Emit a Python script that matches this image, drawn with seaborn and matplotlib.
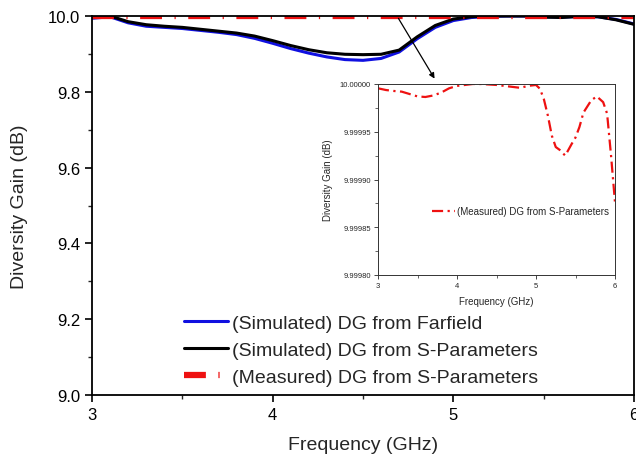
import numpy as np
import pandas as pd
import matplotlib
matplotlib.use("Agg")
import matplotlib.pyplot as plt
from matplotlib.ticker import MultipleLocator, FormatStrFormatter
import seaborn as sns

# ---- data ----
freq_sim = [3.0, 3.1, 3.2, 3.3, 3.4, 3.5, 3.6, 3.7, 3.8, 3.9, 4.0, 4.1, 4.2, 4.3, 4.4,
            4.5, 4.6, 4.7, 4.8, 4.9, 5.0, 5.1, 5.2, 5.3, 5.4, 5.5, 5.6, 5.7, 5.8, 5.9, 6.0]
dg_farfield = [9.994, 9.998, 9.982, 9.973, 9.970, 9.967, 9.962, 9.957, 9.951, 9.941, 9.928,
               9.914, 9.902, 9.892, 9.885, 9.883, 9.888, 9.905, 9.940, 9.970, 9.988, 9.996,
               9.999, 10.0, 10.0, 9.998, 9.997, 9.999, 9.998, 9.991, 9.979]
dg_sparam_sim = [9.997, 10.0, 9.985, 9.977, 9.973, 9.970, 9.965, 9.960, 9.955, 9.947, 9.935,
                 9.922, 9.911, 9.903, 9.899, 9.898, 9.899, 9.910, 9.945, 9.975, 9.992, 9.998,
                 10.0, 10.0, 10.0, 9.997, 9.996, 9.999, 9.998, 9.990, 9.978]
freq_meas = [3.0, 3.1, 3.2, 3.3, 3.4, 3.5, 3.6, 3.7, 3.8, 3.9, 4.0, 4.1, 4.2, 4.3, 4.4, 4.5,
             4.6, 4.7, 4.8, 4.9, 5.0, 5.05, 5.1, 5.15, 5.2, 5.25, 5.3, 5.37, 5.45, 5.5, 5.55,
             5.6, 5.7, 5.77, 5.85, 5.9, 5.95, 6.0]
dg_meas = [9.9999955, 9.9999937, 9.9999927, 9.999992, 9.9999895, 9.999987, 9.9999864,
           9.999988, 9.999991, 9.9999955, 9.999998, 9.999999, 10.0, 10.0, 9.9999995,
           9.999999, 9.999998, 9.999997, 9.999996, 9.999998, 9.999999, 9.999995, 9.999984,
           9.999967, 9.999946, 9.999934, 9.999931, 9.999925, 9.999937, 9.999944, 9.999955,
           9.999970, 9.999983, 9.999987, 9.999981, 9.999969, 9.999925, 9.999876]

lbl_ff = "(Simulated) DG from Farfield"
lbl_ss = "(Simulated) DG from S-Parameters"
lbl_ms = "(Measured) DG from S-Parameters"

sns.set_style("ticks")
plt.rcParams['font.family'] = ['Liberation Sans', 'DejaVu Sans']

fig = plt.figure(figsize=(6.36, 4.56), dpi=100)
ax = fig.add_axes([92/636, 1-396/456, (634-92)/636, (396-17)/456])

df_sim = pd.DataFrame({"f": freq_sim, "ff": dg_farfield, "ss": dg_sparam_sim})
df_meas = pd.DataFrame({"f": freq_meas, "m": dg_meas})

sns.lineplot(data=df_sim, x="f", y="ff", ax=ax, color="#1010e0", lw=2.2, label=lbl_ff)
sns.lineplot(data=df_sim, x="f", y="ss", ax=ax, color="black", lw=2.2, label=lbl_ss)
sns.lineplot(data=df_meas, x="f", y="m", ax=ax, color="#ee1111", lw=4.5,
             linestyle=(0, (3.5, 2.0, 0.2, 2.0)), label=lbl_ms)

ax.set_xlim(3, 6)
ax.set_ylim(9.0, 10.0)
ax.xaxis.set_major_locator(MultipleLocator(1))
ax.xaxis.set_minor_locator(MultipleLocator(0.5))
ax.yaxis.set_major_locator(MultipleLocator(0.2))
ax.yaxis.set_minor_locator(MultipleLocator(0.1))
ax.yaxis.set_major_formatter(FormatStrFormatter('%.1f'))
ax.xaxis.set_major_formatter(FormatStrFormatter('%d'))
ax.tick_params(which='major', direction='out', length=5, width=1.2, labelsize=12, colors='black')
ax.tick_params(which='minor', direction='out', length=3, width=1.0)
for s in ax.spines.values():
    s.set_linewidth(1.3)
    s.set_color('black')
ax.set_xlabel("Frequency (GHz)", fontsize=14, labelpad=10)
ax.set_ylabel("Diversity Gain (dB)", fontsize=14, labelpad=14)

leg = ax.legend(loc='center left', bbox_to_anchor=(174/636, 1-351/456),
                bbox_transform=fig.transFigure, frameon=False, fontsize=14,
                handlelength=2.3, handletextpad=0.2, labelspacing=0.48, borderpad=0)

# ---- inset ----
axi = fig.add_axes([378/636, 1-276/456, (615-378)/636, (276-85)/456])
sns.lineplot(data=df_meas, x="f", y="m", ax=axi, color="#ee1111", lw=1.6,
             linestyle=(0, (5, 2, 1, 2)), label=lbl_ms)
axi.set_xlim(3, 6)
axi.set_ylim(9.99980, 10.0)
axi.xaxis.set_major_locator(MultipleLocator(1))
axi.xaxis.set_minor_locator(MultipleLocator(0.5))
axi.yaxis.set_major_locator(MultipleLocator(0.00005))
axi.yaxis.set_minor_locator(MultipleLocator(0.000025))
axi.yaxis.set_major_formatter(FormatStrFormatter('%.5f'))
axi.xaxis.set_major_formatter(FormatStrFormatter('%d'))
axi.tick_params(which='major', direction='out', length=3, width=0.6, labelsize=5.5, pad=2)
axi.tick_params(which='minor', direction='out', length=2, width=0.5)
for s in axi.spines.values():
    s.set_linewidth(0.7)
    s.set_color('#333333')
axi.set_xlabel("Frequency (GHz)", fontsize=7, labelpad=5)
axi.set_ylabel("Diversity Gain (dB)", fontsize=7, labelpad=5)
axi.legend(loc='center left', bbox_to_anchor=(427/636, 1-212/456),
           bbox_transform=fig.transFigure, frameon=False, fontsize=7,
           handlelength=2.4, handletextpad=0.2, borderpad=0)

# arrow from main curve to inset
ax.annotate("", xy=(436/636, 1-82/456), xycoords='figure fraction',
            xytext=(397/636, 1-17/456), textcoords='figure fraction',
            arrowprops=dict(arrowstyle='-|>', color='black', lw=0.9, mutation_scale=8))

fig.savefig("out.png", dpi=100)
